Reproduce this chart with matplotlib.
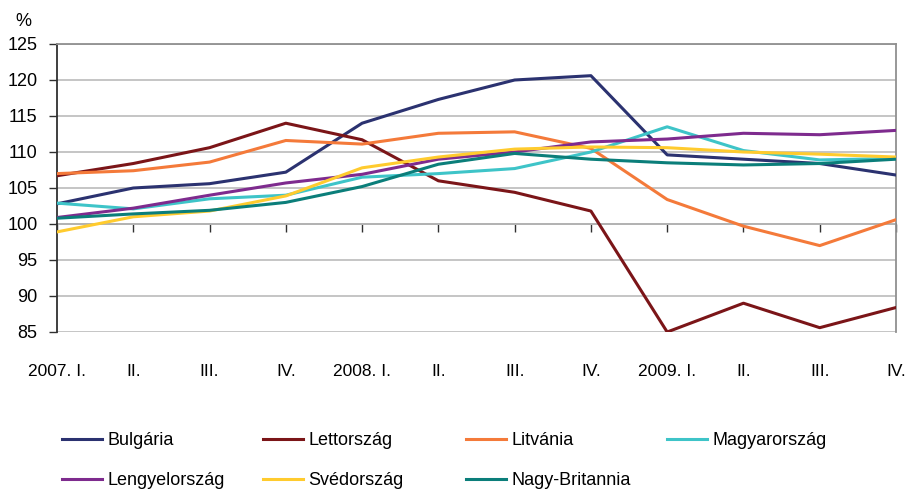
import numpy as np
import matplotlib
matplotlib.use('Agg')
import matplotlib.pyplot as plt

plt.rcParams['font.family'] = ['Liberation Sans', 'DejaVu Sans']

quarters = ['2007. I.', 'II.', 'III.', 'IV.',
            '2008. I.', 'II.', 'III.', 'IV.',
            '2009. I.', 'II.', 'III.', 'IV.']

bulgaria = [102.8, 105.0, 105.6, 107.2, 114.0, 117.3, 120.0, 120.6, 109.6, 109.0, 108.4, 106.8]
lettorszag = [106.7, 108.4, 110.6, 114.0, 111.7, 106.0, 104.4, 101.8, 85.0, 89.0, 85.6, 88.4]
litvania = [107.0, 107.4, 108.6, 111.6, 111.1, 112.6, 112.8, 110.5, 103.4, 99.7, 97.0, 100.6]
magyarorszag = [102.9, 102.1, 103.5, 104.0, 106.5, 107.0, 107.7, 110.0, 113.5, 110.2, 108.9, 109.1]
lengyelorszag = [100.9, 102.2, 104.0, 105.7, 106.9, 109.0, 110.0, 111.4, 111.8, 112.6, 112.4, 113.0]
svedorszag = [98.9, 101.0, 101.8, 103.9, 107.8, 109.3, 110.4, 110.7, 110.6, 110.0, 109.7, 109.3]
nagy_britannia = [100.8, 101.4, 101.9, 103.0, 105.2, 108.3, 109.8, 109.0, 108.5, 108.2, 108.4, 109.0]

series = [
    ('Bulgária', bulgaria, '#2b3270'),
    ('Lettország', lettorszag, '#7b1518'),
    ('Litvánia', litvania, '#f47a3a'),
    ('Magyarország', magyarorszag, '#3ec4c8'),
    ('Lengyelország', lengyelorszag, '#7e2b8e'),
    ('Svédország', svedorszag, '#ffcb2e'),
    ('Nagy-Britannia', nagy_britannia, '#0b7e7a'),
]

fig = plt.figure(figsize=(9.05, 4.91), dpi=100)
ax = fig.add_axes([57 / 905, 1 - 332 / 491, (896 - 57) / 905, (332 - 44) / 491])

x = np.arange(len(quarters))
handles = {}
for name, vals, col in series:
    h, = ax.plot(x, vals, color=col, lw=2.2, label=name, zorder=3)
    handles[name] = h

ax.set_xlim(0, len(quarters) - 1)
ax.set_ylim(85, 125)
ax.set_yticks(np.arange(85, 126, 5))
ax.yaxis.grid(True, color='#c0c0c0', lw=1.3)
ax.set_axisbelow(True)

for s in ['top', 'right']:
    ax.spines[s].set_color('#909090')
    ax.spines[s].set_linewidth(1.3)
ax.spines['bottom'].set_visible(False)
ax.spines['left'].set_color('#303030')
ax.spines['left'].set_linewidth(1.3)

ax.tick_params(axis='y', length=6, width=1, color='#303030', labelsize=13, pad=8)
ax.set_xticks(x)
ax.set_xticklabels(quarters)
ax.tick_params(axis='x', length=0, labelsize=12.5, pad=23)

# category axis crosses at 100
sec = ax.secondary_xaxis((100 - 85) / 40)
sec.set_xticks(x)
sec.set_xticklabels([])
sec.tick_params(length=6, width=1, color='#303030', direction='out')
sec.spines['bottom'].set_color('#303030')
sec.spines['bottom'].set_linewidth(1.3)

fig.text(23 / 905, 1 - 21 / 491, '%', fontsize=13, ha='center', va='center')

# legend: 4 equally spaced columns
columns = [['Bulgária', 'Lengyelország'], ['Lettország', 'Svédország'],
           ['Litvánia', 'Nagy-Britannia'], ['Magyarország']]
col_x = [62, 263, 466, 667]
for names, cx in zip(columns, col_x):
    leg = fig.legend([handles[n] for n in names], names, frameon=False,
                     loc='upper left', bbox_to_anchor=(cx / 905, 1 - 432 / 491),
                     borderpad=0, borderaxespad=0,
                     fontsize=13, handlelength=2.2, handletextpad=0.3,
                     labelspacing=1.3)

fig.savefig('out.png', dpi=100)
